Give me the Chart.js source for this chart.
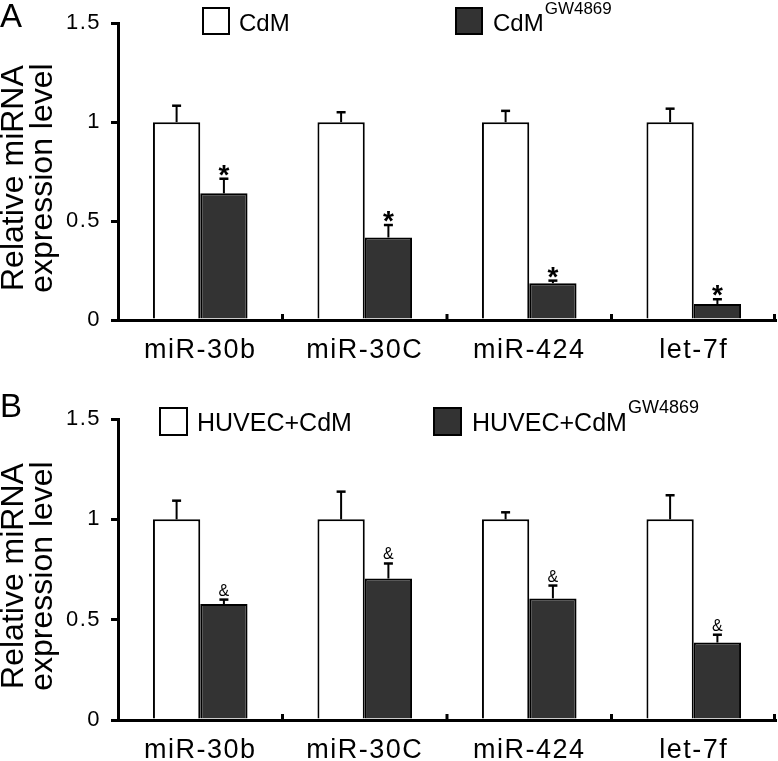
<!DOCTYPE html>
<html><head><meta charset="utf-8">
<script src="https://cdn.jsdelivr.net/npm/chart.js@4.4.0/dist/chart.umd.min.js"></script>
<style>
html,body{margin:0;padding:0;background:#fff;}
#wrap{position:relative;width:778px;height:761px;overflow:hidden;}
canvas{position:absolute;left:0;}
#ca{top:0}
#cb{top:380px}
</style></head><body>
<div id="wrap"><canvas id="ca" width="778" height="380"></canvas><canvas id="cb" width="778" height="381"></canvas></div>
<script>
// ---- data ----
const categories = ['miR-30b', 'miR-30C', 'miR-424', 'let-7f'];
const yTickValues = [0, 0.5, 1, 1.5];
const yTitle = ['Relative miRNA', 'expression level'];

const controlA = [1, 1, 1, 1];
const controlErrA = [0.083, 0.05, 0.057, 0.068];
const treatedA = [0.64, 0.417, 0.186, 0.081];
const treatedErrA = [0.074, 0.063, 0.013, 0.024];
const legendNamesA = ['CdM', 'CdM'];
const legendSupA = ['', 'GW4869'];
const markA = '*';

const controlB = [1, 1, 1, 1];
const controlErrB = [0.093, 0.138, 0.035, 0.12];
const treatedB = [0.578, 0.705, 0.606, 0.386];
const treatedErrB = [0.022, 0.075, 0.064, 0.039];
const legendNamesB = ['HUVEC+CdM', 'HUVEC+CdM'];
const legendSupB = ['', 'GW4869'];
const markB = '&';

// ---- styling ----
const FONT = "'Liberation Sans', Arial, sans-serif";
const DARK = '#333333';

function font(size, weight) { return (weight || '') + ' ' + size + 'px ' + FONT; }

const spacingPlugin = {
  id: 'spacing',
  beforeDraw(chart) { chart.ctx.letterSpacing = '1.5px'; },
  beforeDatasetsDraw(chart) { chart.ctx.letterSpacing = '0px'; }
};

const errorBarPlugin = {
  id: 'errorBars',
  afterDatasetsDraw(chart) {
    const ctx = chart.ctx, ys = chart.scales.y;
    chart.data.datasets.forEach((ds, d) => {
      const meta = chart.getDatasetMeta(d);
      meta.data.forEach((bar, i) => {
        const top = ys.getPixelForValue(ds.data[i] + ds.errors[i]);
        ctx.save();
        ctx.strokeStyle = '#000';
        ctx.lineWidth = 2;
        ctx.beginPath();
        ctx.moveTo(bar.x, bar.y);
        ctx.lineTo(bar.x, top);
        ctx.stroke();
        ctx.lineWidth = 2.5;
        ctx.beginPath();
        ctx.moveTo(bar.x - 4.5, top);
        ctx.lineTo(bar.x + 4.5, top);
        ctx.stroke();
        if (ds.mark) {
          ctx.font = font(ds.markSize, ds.markWeight);
          ctx.fillStyle = '#000';
          ctx.textAlign = 'center';
          ctx.textBaseline = 'alphabetic';
          const m = ctx.measureText(ds.mark);
          ctx.fillText(ds.mark, bar.x, top - ds.markGap - m.actualBoundingBoxDescent);
        }
        ctx.restore();
      });
    });
  }
};

const decorPlugin = {
  id: 'decor',
  afterDraw(chart) {
    const ctx = chart.ctx, p = chart.options.plugins.panel;
    const xs = chart.scales.x, area = chart.chartArea;
    ctx.save();
    ctx.letterSpacing = '0px';
    // upward tick marks at category boundaries
    ctx.strokeStyle = '#000';
    ctx.lineWidth = 3;
    for (let i = 0; i < categories.length; i++) {
      const bx = i < categories.length - 1
        ? (xs.getPixelForValue(i) + xs.getPixelForValue(i + 1)) / 2
        : area.right - 1.5;
      ctx.beginPath();
      ctx.moveTo(bx, area.bottom);
      ctx.lineTo(bx, area.bottom - 6);
      ctx.stroke();
    }
    // panel letter
    ctx.fillStyle = '#000';
    ctx.textAlign = 'left';
    ctx.textBaseline = 'alphabetic';
    ctx.font = font(33);
    ctx.fillText(p.letter, 0, p.letterY);
    // y title
    ctx.font = font(32);
    ctx.textAlign = 'center';
    const cy = (area.top + area.bottom) / 2 + 6.5;
    [23, 52].forEach((bx, k) => {
      ctx.save();
      ctx.translate(bx, cy);
      ctx.rotate(-Math.PI / 2);
      ctx.fillText(yTitle[k], 0, 0);
      ctx.restore();
    });
    // legend
    chart.data.datasets.forEach((ds, d) => {
      const L = p.legend[d];
      ctx.fillStyle = ds.backgroundColor;
      ctx.fillRect(L.bx, p.boxY, p.box, p.box);
      ctx.strokeStyle = '#000';
      ctx.lineWidth = 2;
      ctx.strokeRect(L.bx + 1, p.boxY + 1, p.box - 2, p.box - 2);
      ctx.fillStyle = '#000';
      ctx.textAlign = 'left';
      ctx.font = font(p.legendFont);
      ctx.fillText(ds.label, L.tx, p.textY);
      if (ds.sup) {
        const w = ctx.measureText(ds.label).width;
        ctx.font = font(p.supFont);
        ctx.fillText(ds.sup, L.tx + w + 1, p.supY);
      }
    });
    ctx.restore();
  }
};

function makeChart(el, ctrl, ctrlErr, trt, trtErr, names, sups, mark, panel) {
  return new Chart(el, {
    type: 'bar',
    data: {
      labels: categories,
      datasets: [
        { label: names[0], sup: sups[0], data: ctrl, errors: ctrlErr,
          backgroundColor: '#ffffff', borderColor: '#000', borderWidth: 2 },
        { label: names[1], sup: sups[1], data: trt, errors: trtErr,
          backgroundColor: DARK, borderColor: '#000', borderWidth: 2,
          mark: mark, markSize: panel.markSize, markWeight: panel.markWeight, markGap: panel.markGap }
      ]
    },
    options: {
      responsive: false,
      animation: false,
      devicePixelRatio: 1,
      layout: { padding: { top: panel.top, right: 2, left: 0, bottom: 0 } },
      datasets: { bar: { categoryPercentage: 0.575, barPercentage: 1.0 } },
      plugins: {
        legend: { display: false },
        tooltip: { enabled: false },
        panel: panel
      },
      scales: {
        x: {
          grid: { display: false, drawTicks: false },
          border: { display: true, color: '#000', width: 3 },
          ticks: { color: '#000', font: { family: FONT, size: 27 }, padding: 14 },
          afterFit(s) { s.height = panel.xHeight; }
        },
        y: {
          min: 0, max: 1.5,
          afterBuildTicks(s) { s.ticks = yTickValues.map(v => ({ value: v })); },
          grid: { drawOnChartArea: false, drawTicks: true, tickLength: 7, lineWidth: 3, color: '#000' },
          border: { display: true, color: '#000', width: 3 },
          ticks: { color: '#000', font: { family: FONT, size: 22 }, padding: 10,
                   callback: v => String(v) },
          afterFit(s) { s.width = 118; }
        }
      }
    },
    plugins: [spacingPlugin, errorBarPlugin, decorPlugin]
  });
}

makeChart(document.getElementById('ca'), controlA, controlErrA, treatedA, treatedErrA,
  legendNamesA, legendSupA, markA, {
    top: 20, xHeight: 60, letter: 'A', letterY: 27,
    box: 28, boxY: 7, textY: 31, supY: 14, legendFont: 24, supFont: 17,
    legend: [{ bx: 202, tx: 239 }, { bx: 455, tx: 493 }],
    markSize: 28, markWeight: 'bold', markGap: 3
  });

makeChart(document.getElementById('cb'), controlB, controlErrB, treatedB, treatedErrB,
  legendNamesB, legendSupB, markB, {
    top: 39, xHeight: 41, letter: 'B', letterY: 37,
    box: 29, boxY: 27, textY: 51, supY: 33, legendFont: 25, supFont: 18,
    legend: [{ bx: 159, tx: 197 }, { bx: 433, tx: 472 }],
    markSize: 16, markWeight: '', markGap: 4
  });
</script>
</body></html>
